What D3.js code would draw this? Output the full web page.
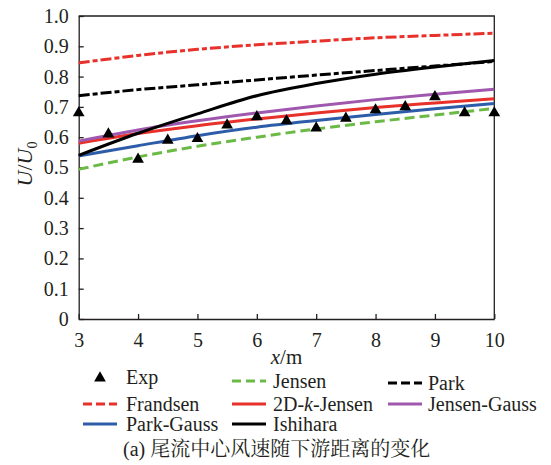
<!DOCTYPE html>
<html>
<head>
<meta charset="utf-8">
<script src="https://cdn.jsdelivr.net/npm/d3@7/dist/d3.min.js"></script>
<style>
  html, body { margin: 0; padding: 0; background: #fff; }
  svg { display: block; }
</style>
</head>
<body>
<svg id="chart" width="551" height="465"></svg>
<script>
// Downstream distance (m) at which each model curve is sampled
const distance = [3, 4, 5, 6, 7, 8, 9, 10];

// Normalised wake-centre velocity U/U0 for each wake model
const frandsen     = [0.845, 0.870, 0.890, 0.905, 0.917, 0.928, 0.936, 0.943];
const park         = [0.737, 0.757, 0.773, 0.789, 0.805, 0.820, 0.835, 0.850];
const ishihara     = [0.540, 0.613, 0.677, 0.737, 0.777, 0.808, 0.832, 0.853];
const jensenGauss  = [0.587, 0.624, 0.654, 0.680, 0.703, 0.724, 0.742, 0.758];
const jensen2Dk    = [0.580, 0.612, 0.638, 0.660, 0.680, 0.698, 0.713, 0.727];
const parkGauss    = [0.538, 0.572, 0.605, 0.633, 0.655, 0.675, 0.694, 0.711];
const jensen       = [0.494, 0.535, 0.570, 0.600, 0.627, 0.651, 0.673, 0.695];

// Measured points
const expX = [3, 3.5, 4, 4.5, 5, 5.5, 6, 6.5, 7, 7.5, 8, 8.5, 9, 9.5, 10];
const expU = [0.680, 0.610, 0.527, 0.590, 0.595, 0.640, 0.667, 0.654, 0.630, 0.662, 0.690, 0.700, 0.733, 0.680, 0.680];

// Axis ticks
const xTicks = [3, 4, 5, 6, 7, 8, 9, 10];
const yTicks = [0, 0.1, 0.2, 0.3, 0.4, 0.5, 0.6, 0.7, 0.8, 0.9, 1.0];

const SERIF = '"Liberation Serif"';
const CJK = '"Noto Serif CJK SC"';
const INK = "#231f20";

const svg = d3.select("#chart");
const plotLeft = 78.7, plotRight = 494.3, plotTop = 16, plotBottom = 319;

const x = d3.scaleLinear().domain([3, 10]).range([plotLeft, plotRight]);
const y = d3.scaleLinear().domain([0, 1]).range([plotBottom, plotTop]);

// Frame: top and right edges
svg.append("path")
  .attr("d", `M${plotLeft},${plotTop}H${plotRight}V${plotBottom}`)
  .attr("fill", "none").attr("stroke", INK).attr("stroke-width", 1.3);

// X axis with inward ticks
const gx = svg.append("g").attr("transform", `translate(0,${plotBottom})`)
  .call(d3.axisBottom(x).tickValues(xTicks).tickSizeInner(-5).tickSizeOuter(0).tickPadding(14)
        .tickFormat(d3.format("d")));
gx.select(".domain").attr("stroke", INK).attr("stroke-width", 1.3);
gx.selectAll(".tick line").attr("stroke", INK).attr("stroke-width", 1.3);
gx.selectAll(".tick text").attr("fill", INK)
  .style("font-family", SERIF).style("font-size", "20px");

// Y axis with inward ticks
const gy = svg.append("g").attr("transform", `translate(${plotLeft},0)`)
  .call(d3.axisLeft(y).tickValues(yTicks).tickSizeInner(-5).tickSizeOuter(0).tickPadding(10)
        .tickFormat(d => d === 0 ? "0" : d3.format(".1f")(d)));
gy.select(".domain").attr("stroke", INK).attr("stroke-width", 1.3);
gy.selectAll(".tick line").attr("stroke", INK).attr("stroke-width", 1.3);
gy.selectAll(".tick text").attr("fill", INK)
  .style("font-family", SERIF).style("font-size", "20px");

// Axis titles
const yTitle = svg.append("text")
  .attr("transform", "translate(32,164) rotate(-90)")
  .attr("text-anchor", "middle").attr("fill", INK)
  .style("font-family", SERIF).style("font-size", "22px");
yTitle.append("tspan").style("font-style", "italic").text("U");
yTitle.append("tspan").text("/");
yTitle.append("tspan").style("font-style", "italic").text("U");
yTitle.append("tspan").style("font-size", "14px").attr("dy", 5).text("0");

const xTitle = svg.append("text")
  .attr("x", (plotLeft + plotRight) / 2).attr("y", 364)
  .attr("text-anchor", "middle").attr("fill", INK)
  .style("font-family", SERIF).style("font-size", "21px");
xTitle.append("tspan").style("font-style", "italic").text("x");
xTitle.append("tspan").text("/m");

// Model curves
const RED = "#e8312b", GREEN = "#6cba46", BLUE = "#2d5ca9", PURPLE = "#9f58ad", BLACK = "#000";
const DASHDOT = "11,3,5,3", DASH = "10,5";

const models = [
  { name: "Frandsen",     values: frandsen,    color: RED,    dash: DASHDOT },
  { name: "Park",         values: park,        color: BLACK,  dash: DASHDOT },
  { name: "Jensen",       values: jensen,      color: GREEN,  dash: DASH },
  { name: "Park-Gauss",   values: parkGauss,   color: BLUE,   dash: null },
  { name: "2D-k-Jensen",  values: jensen2Dk,   color: RED,    dash: null },
  { name: "Jensen-Gauss", values: jensenGauss, color: PURPLE, dash: null },
  { name: "Ishihara",     values: ishihara,    color: BLACK,  dash: null }
];

const line = d3.line()
  .x((d, i) => x(distance[i]))
  .y(d => y(d))
  .curve(d3.curveMonotoneX);

svg.append("g").selectAll("path")
  .data(models)
  .join("path")
  .attr("d", d => line(d.values))
  .attr("fill", "none")
  .attr("stroke", d => d.color)
  .attr("stroke-width", 3)
  .attr("stroke-dasharray", d => d.dash);

// Measured points as triangles
const tri = d3.symbol().type(d3.symbolTriangle).size(60);
svg.append("g").selectAll("path")
  .data(expX.map((v, i) => [v, expU[i]]))
  .join("path")
  .attr("d", tri)
  .attr("transform", d => `translate(${x(d[0])},${y(d[1])})`)
  .attr("fill", "#000");

// Legend
const legend = svg.append("g");
const legendItems = [
  { label: ["Exp"],                 type: "marker",                       sx: 83,  tx: 126, y: 377 },
  { label: ["Jensen"],              color: GREEN,  dash: "9,5",           sx: 232, tx: 273, y: 381 },
  { label: ["Park"],                color: BLACK,  dash: "9,4",           sx: 388, tx: 428, y: 383 },
  { label: ["Frandsen"],            color: RED,    dash: "9,4",           sx: 83,  tx: 126, y: 404 },
  { label: ["2D-", "k", "-Jensen"], color: RED,    dash: null,            sx: 232, tx: 273, y: 404 },
  { label: ["Jensen-Gauss"],        color: PURPLE, dash: null,            sx: 388, tx: 428, y: 404 },
  { label: ["Park-Gauss"],          color: BLUE,   dash: null,            sx: 83,  tx: 126, y: 424 },
  { label: ["Ishihara"],            color: BLACK,  dash: null,            sx: 232, tx: 273, y: 424 }
];

legendItems.forEach(item => {
  if (item.type === "marker") {
    legend.append("path").attr("d", tri)
      .attr("transform", `translate(${item.sx + 17},${item.y + 1})`).attr("fill", "#000");
  } else {
    legend.append("line")
      .attr("x1", item.sx).attr("x2", item.sx + 34)
      .attr("y1", item.y).attr("y2", item.y)
      .attr("stroke", item.color).attr("stroke-width", 3)
      .attr("stroke-dasharray", item.dash);
  }
  const t = legend.append("text").attr("x", item.tx).attr("y", item.y + 7).attr("fill", INK)
    .style("font-family", SERIF).style("font-size", "20px");
  item.label.forEach((part, i) => {
    t.append("tspan").style("font-style", item.label.length === 3 && i === 1 ? "italic" : "normal").text(part);
  });
});

// Caption
const caption = svg.append("text").attr("x", 123).attr("y", 456).attr("fill", INK)
  .style("font-family", SERIF).style("font-size", "20px");
caption.append("tspan").text("(a) ");
caption.append("tspan").style("font-family", CJK).text("尾流中心风速随下游距离的变化");
</script>
</body>
</html>
